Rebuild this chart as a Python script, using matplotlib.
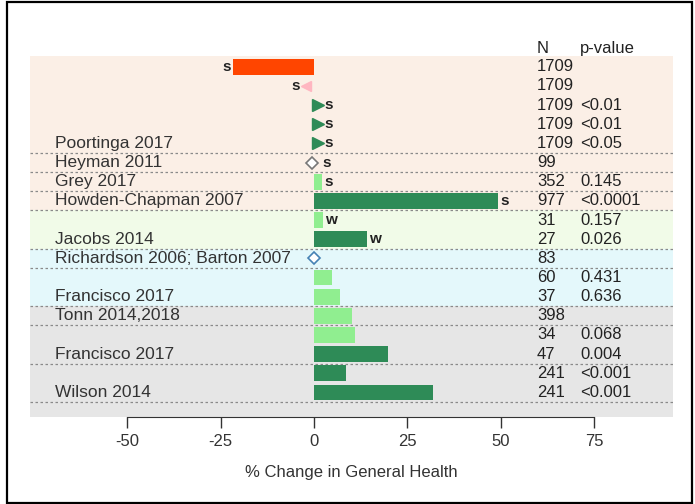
import matplotlib.pyplot as plt
from matplotlib.patches import Rectangle
import numpy as np

plt.rcParams['font.family'] = ['Liberation Sans', 'DejaVu Sans']

# data, one entry per row (top to bottom)
effect = [-21.7, -2.0, 1.1, 1.1, 1.1, -0.4, 2.2, 49.3, 2.5, 14.2,
          0.0, 4.7, 7.0, 10.1, 11.0, 19.9, 8.7, 31.9]
kind = ['bar_neg', 'tri_left', 'tri_right', 'tri_right', 'tri_right', 'diamond',
        'bar_light', 'bar_dark', 'bar_light', 'bar_dark',
        'diamond_blue', 'bar_light', 'bar_light', 'bar_light', 'bar_light',
        'bar_dark', 'bar_dark', 'bar_dark']
sig = ['s', 's', 's', 's', 's', 's', 's', 's', 'w', 'w',
       '', '', '', '', '', '', '', '']
n_vals = ['1709', '1709', '1709', '1709', '1709', '99', '352', '977', '31', '27',
          '83', '60', '37', '398', '34', '47', '241', '241']
p_vals = ['', '', '<0.01', '<0.01', '<0.05', '', '0.145', '<0.0001', '0.157', '0.026',
          '', '0.431', '0.636', '', '0.068', '0.004', '<0.001', '<0.001']

# study groups: (first row, last row, name)
studies = [(0, 4, 'Poortinga 2017'), (5, 5, 'Heyman 2011'), (6, 6, 'Grey 2017'),
           (7, 7, 'Howden-Chapman 2007'), (8, 9, 'Jacobs 2014'),
           (10, 10, 'Richardson 2006; Barton 2007'), (11, 12, 'Francisco 2017'),
           (13, 13, 'Tonn 2014,2018'), (14, 15, 'Francisco 2017'), (16, 17, 'Wilson 2014')]

# background bands: (first row, last row, colour)
bands = [(0, 7, '#FBEFE6'), (8, 9, '#F1FBE8'), (10, 12, '#E4F8FB'), (13, 17, '#E6E6E6')]

x_ticks = [-50, -25, 0, 25, 50, 75]

fig = plt.figure(figsize=(6.95, 5.04), dpi=100)
ax = fig.add_axes([30 / 695, 87 / 504, 643 / 695, 380 / 504])
ax.set_xlim(-76.0, 96.1)
ylim_bottom = 18.28
ax.set_ylim(ylim_bottom, -1.55)

# bands
for i, (a, b, col) in enumerate(bands):
    top = a - 0.5 if i > 0 else a - 0.57
    bot = b + 0.5 if i < len(bands) - 1 else ylim_bottom
    ax.axhspan(top, bot, color=col, lw=0, zorder=0)

# dotted separators under each study group
for a, b, name in studies:
    ax.axhline(b + 0.5, color='#8a8a8a', lw=0.9, ls=(0, (2, 2)), zorder=1)
    ax.text(-69.3, b, name, ha='left', va='center', fontsize=12.5, color='#333333', zorder=3)

txt_col = '#222222'
for i, v in enumerate(effect):
    k = kind[i]
    if k.startswith('bar'):
        col = {'bar_neg': '#FF4500', 'bar_light': '#90EE90', 'bar_dark': '#2E8B57'}[k]
        ax.barh(i, v, height=0.82, left=0, color=col, lw=0, zorder=2)
        off = 0.6
    elif k == 'tri_left':
        ax.plot(v, i, marker='<', ms=7, color='#FFB6C1', zorder=3)
        off = 1.8
    elif k == 'tri_right':
        ax.plot(v, i, marker='>', ms=8, color='#2E8B57', zorder=3)
        off = 1.8
    else:
        ec = '#777777' if k == 'diamond' else '#4682B4'
        ax.plot(v, i, marker='D', ms=6, mfc='white', mec=ec, mew=1.2, zorder=3)
        off = 2.6
    if sig[i]:
        if k in ('bar_neg', 'tri_left'):
            ax.text(v - off, i, sig[i], ha='right', va='center', fontsize=11,
                    fontweight='bold', color=txt_col, zorder=4)
        else:
            ax.text(v + off, i, sig[i], ha='left', va='center', fontsize=11,
                    fontweight='bold', color=txt_col, zorder=4)
    ax.text(59.7, i, n_vals[i], ha='left', va='center', fontsize=12, color=txt_col, zorder=4)
    ax.text(71.2, i, p_vals[i], ha='left', va='center', fontsize=12, color=txt_col, zorder=4)

ax.text(59.7, -0.95, 'N', ha='left', va='center', fontsize=12, color=txt_col)
ax.text(71.2, -0.95, 'p-value', ha='left', va='center', fontsize=12, color=txt_col)

# axis
for s in ['top', 'left', 'right']:
    ax.spines[s].set_visible(False)
ax.spines['bottom'].set_bounds(-50, 75)
ax.spines['bottom'].set_color('#333333')
ax.set_yticks([])
ax.set_xticks(x_ticks)
ax.set_xticklabels([str(t) for t in x_ticks])
ax.tick_params(axis='x', length=8, width=1, color='#333333', pad=4, labelsize=12,
               labelcolor='#333333')
ax.set_xlabel('% Change in General Health', fontsize=12, color='#333333', labelpad=12)
ax.patch.set_visible(False)

# outer frame
fig.patches.append(Rectangle((7 / 695, 1 / 504), 685 / 695, 501 / 504, transform=fig.transFigure,
                             fill=False, ec='black', lw=1.6))

fig.savefig('out.png', dpi=100)
